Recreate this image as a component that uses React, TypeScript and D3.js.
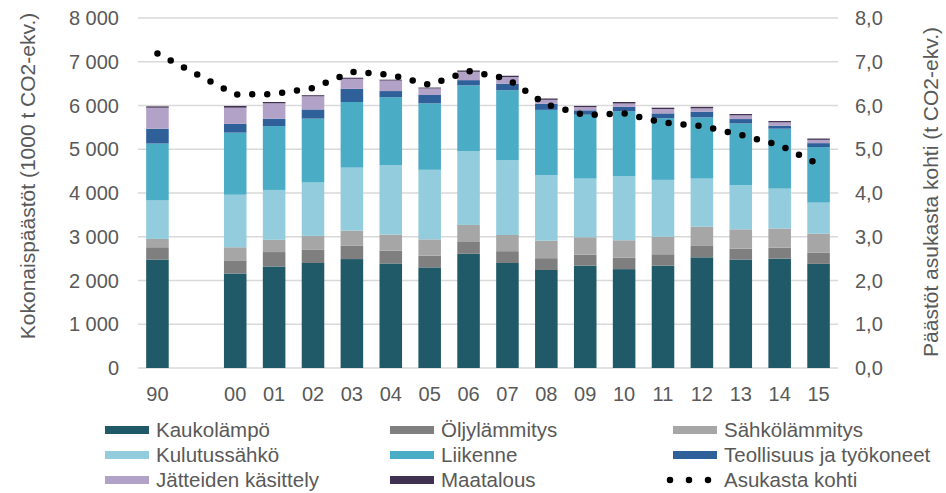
import * as d3 from "d3";

const years = ["90", "00", "01", "02", "03", "04", "05", "06", "07", "08", "09", "10", "11", "12", "13", "14", "15"];

const kaukolampo = [2480, 2160, 2320, 2400, 2490, 2390, 2300, 2610, 2400, 2240, 2340, 2260, 2340, 2530, 2480, 2500, 2380];
const oljy = [280, 300, 330, 310, 310, 290, 270, 270, 270, 270, 250, 260, 260, 260, 250, 250, 260];
const sahkolammitys = [190, 300, 280, 310, 340, 370, 370, 390, 370, 400, 400, 400, 400, 440, 440, 440, 430];
const kulutussahko = [880, 1200, 1140, 1220, 1440, 1590, 1590, 1690, 1710, 1500, 1340, 1460, 1300, 1100, 1010, 910, 710];
const liikenne = [1300, 1420, 1460, 1460, 1500, 1550, 1520, 1500, 1600, 1490, 1460, 1490, 1410, 1400, 1410, 1370, 1270];
const teollisuus = [340, 200, 170, 210, 300, 140, 190, 120, 150, 140, 100, 100, 110, 130, 100, 70, 90];
const jatteet = [480, 370, 350, 300, 230, 240, 150, 190, 150, 90, 75, 75, 100, 75, 85, 75, 75];
const maatalous = [30, 40, 30, 25, 25, 20, 20, 30, 30, 30, 25, 35, 30, 35, 30, 30, 30];

const perCapita = [7.19, 6.25, 6.26, 6.4, 6.77, 6.7, 6.47, 6.79, 6.61, 6.02, 5.78, 5.82, 5.61, 5.53, 5.33, 5.09, 4.66];

const leftTicks = [0, 1000, 2000, 3000, 4000, 5000, 6000, 7000, 8000];
const rightTicks = [0, 1, 2, 3, 4, 5, 6, 7, 8];

const series = [
  { name: "Kaukolämpö", values: kaukolampo, color: "#205a68" },
  { name: "Öljylämmitys", values: oljy, color: "#7f7f7f" },
  { name: "Sähkölämmitys", values: sahkolammitys, color: "#a6a6a6" },
  { name: "Kulutussähkö", values: kulutussahko, color: "#93cddd" },
  { name: "Liikenne", values: liikenne, color: "#4bacc6" },
  { name: "Teollisuus ja työkoneet", values: teollisuus, color: "#30609a" },
  { name: "Jätteiden käsittely", values: jatteet, color: "#b3a2c7" },
  { name: "Maatalous", values: maatalous, color: "#403152" },
];

const W = 946;
const H = 493;
const textColor = "#595959";
const font = "'Liberation Sans', Arial, sans-serif";

export default function App() {
  const left = 138;
  const right = 838;
  const top = 18;
  const bottom = 368;

  // an empty slot sits between 1990 and 2000
  const domain = [years[0], "gap", ...years.slice(1)];
  const x = d3.scaleBand().domain(domain).range([left, right]).paddingInner(0.42).paddingOuter(0.21);
  const y = d3.scaleLinear().domain([0, 8000]).range([bottom, top]);
  const y2 = d3.scaleLinear().domain([0, 8]).range([bottom, top]);

  const rows = years.map((yr, i) => {
    const r: any = { year: yr };
    series.forEach((s) => (r[s.name] = s.values[i]));
    return r;
  });
  const stacked = d3.stack().keys(series.map((s) => s.name))(rows);

  const cx = (yr: string) => (x(yr) as number) + x.bandwidth() / 2;
  const line = d3
    .line<number>()
    .x((_, i) => cx(years[i]))
    .y((d) => y2(d));

  const fmt = (v: number) => d3.format(",")(v).replace(/,/g, " ");

  const legendCols = [105, 390, 673];
  const legendRows = [430, 455, 480];
  const legendItems = [...series.map((s) => ({ name: s.name, color: s.color, dots: false })), { name: "Asukasta kohti", color: "#000", dots: true }];

  return (
    <svg width={W} height={H} style={{ position: "absolute", left: 0, top: 0, background: "#fff" }} fontFamily={font}>
      {leftTicks.map((t) => (
        <line key={t} x1={left} x2={right} y1={y(t)} y2={y(t)} stroke="#d9d9d9" strokeWidth={1.3} />
      ))}
      {stacked.map((layer, li) => (
        <g key={layer.key} fill={series[li].color}>
          {layer.map((d, i) => (
            <rect key={i} x={x(years[i])} y={y(d[1])} width={x.bandwidth()} height={y(d[0]) - y(d[1])} />
          ))}
        </g>
      ))}
      <path d={line(perCapita) ?? ""} fill="none" stroke="#000" strokeWidth={6.5} strokeLinecap="round" strokeDasharray="0 15" />
      {leftTicks.map((t) => (
        <text key={t} x={119} y={y(t)} dy="0.36em" textAnchor="end" fontSize={20} fill={textColor}>
          {fmt(t)}
        </text>
      ))}
      {rightTicks.map((t) => (
        <text key={t} x={855} y={y2(t)} dy="0.36em" fontSize={20} fill={textColor}>
          {d3.format(".1f")(t).replace(".", ",")}
        </text>
      ))}
      {years.map((yr) => (
        <text key={yr} x={cx(yr)} y={401} textAnchor="middle" fontSize={20} fill={textColor}>
          {yr}
        </text>
      ))}
      <text transform="translate(35,176) rotate(-90)" textAnchor="middle" fontSize={21} fill={textColor}>
        Kokonaispäästöt (1000 t CO2-ekv.)
      </text>
      <text transform="translate(938,192) rotate(-90)" textAnchor="middle" fontSize={21} fill={textColor}>
        Päästöt asukasta kohti (t CO2-ekv.)
      </text>
      {legendItems.map((it, i) => {
        const lx = legendCols[i % 3];
        const ly = legendRows[Math.floor(i / 3)];
        return (
          <g key={it.name}>
            {it.dots ? (
              <line x1={lx - 3} x2={lx + 36} y1={ly} y2={ly} stroke="#000" strokeWidth={6.5} strokeLinecap="round" strokeDasharray="0 19" />
            ) : (
              <rect x={lx} y={ly - 4} width={44} height={8} fill={it.color} />
            )}
            <text x={lx + 51} y={ly} dy="0.34em" fontSize={20.5} fill={textColor}>
              {it.name}
            </text>
          </g>
        );
      })}
    </svg>
  );
}
